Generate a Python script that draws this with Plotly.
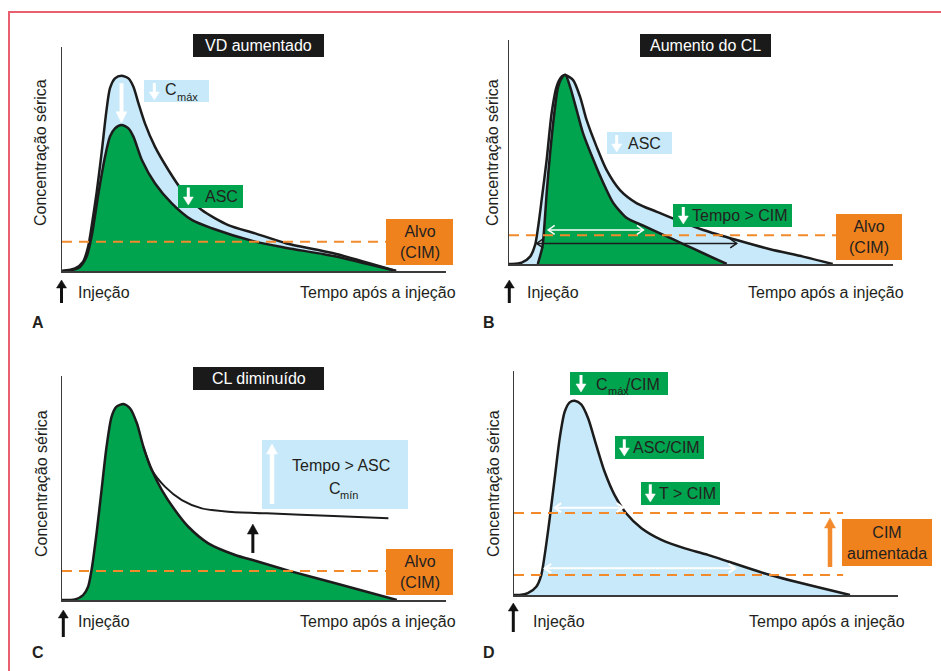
import plotly.graph_objects as go

# ---------------- data (time in arbitrary units, concentration 0-10) ----------------
# Panel A - increased Vd
A_t_outer = [0, 0.34, 0.55, 0.68, 0.77, 0.90, 1.03, 1.16, 1.25, 1.38, 1.55, 1.73, 1.86, 1.99, 2.16, 2.42, 2.77, 3.12, 3.64, 4.33, 5.03, 5.85, 7.07, 8.70]
A_c_outer = [0, 0.12, 0.42, 1.08, 1.98, 3.47, 5.25, 7.19, 8.16, 8.60, 8.72, 8.60, 8.23, 7.49, 6.59, 5.55, 4.51, 3.62, 2.72, 2.05, 1.68, 1.23, 0.79, 0]
A_t_inner = [0, 0.42, 0.64, 0.77, 0.95, 1.12, 1.25, 1.38, 1.55, 1.73, 1.86, 2.08, 2.42, 2.86, 3.38, 3.90, 5.03, 5.85, 7.07, 8.70]
A_c_inner = [0, 0.12, 0.64, 1.53, 3.47, 5.10, 6.00, 6.37, 6.52, 6.37, 6.00, 4.96, 3.92, 3.02, 2.28, 1.91, 1.31, 1.03, 0.67, 0]

# Panel B - increased clearance
B_t_outer = [0, 0.07, 0.33, 0.55, 0.68, 0.76, 0.85, 0.98, 1.11, 1.24, 1.37, 1.46, 1.67, 1.85, 2.02, 2.28, 2.54, 2.89, 3.33, 3.85, 4.37, 5.06, 5.93, 6.80, 7.66, 8.43]
B_c_outer = [0, 0, 0.06, 0.33, 0.85, 1.67, 2.86, 4.64, 6.73, 7.92, 8.36, 8.44, 8.21, 7.47, 6.43, 5.24, 4.20, 3.30, 2.71, 2.33, 1.96, 1.52, 1.07, 0.66, 0.33, 0]
B_t_inner = [0.75, 0.87, 0.92, 0.98, 1.07, 1.18, 1.28, 1.41, 1.47, 1.59, 1.76, 1.93, 2.20, 2.46, 2.72, 3.07, 3.50, 4.02, 4.54, 5.06, 5.67]
B_c_inner = [0, 0.77, 1.67, 3.16, 4.94, 6.73, 7.92, 8.39, 8.44, 7.92, 6.88, 5.83, 4.64, 3.60, 2.71, 2.05, 1.71, 1.30, 0.89, 0.48, 0]

# Panel C - decreased clearance
C_t = [0, 0.34, 0.55, 0.68, 0.77, 0.90, 1.03, 1.16, 1.29, 1.42, 1.60, 1.77, 1.95, 2.12, 2.34, 2.60, 2.94, 3.29, 3.81, 4.51, 5.03, 5.94, 7.24, 8.72]
C_c = [0, 0.03, 0.22, 0.59, 1.34, 2.98, 4.91, 6.84, 8.18, 8.63, 8.75, 8.56, 7.89, 6.84, 5.80, 4.91, 4.02, 3.27, 2.53, 2.01, 1.75, 1.29, 0.69, 0]
C_t_slow = [2.12, 2.34, 2.68, 3.12, 3.64, 4.33, 5.33, 7.07, 8.50]
C_c_slow = [6.84, 5.80, 5.06, 4.46, 4.09, 3.94, 3.87, 3.75, 3.65]

# Panel D - increased MIC
D_t = [0, 0.15, 0.36, 0.58, 0.71, 0.80, 0.93, 1.06, 1.19, 1.32, 1.45, 1.58, 1.75, 1.93, 2.14, 2.36, 2.62, 2.92, 3.32, 3.84, 4.45, 5.05, 6.67, 8.75]
D_c = [0, 0, 0.08, 0.37, 0.89, 1.79, 3.42, 5.21, 7.00, 8.18, 8.60, 8.67, 8.51, 7.89, 6.70, 5.50, 4.46, 3.65, 2.98, 2.46, 2.08, 1.79, 0.89, 0]

# target (MIC) levels and extents
cim_A, cim_B, cim_C = 1.31, 1.28, 1.29
cim_D_low, cim_D_high = 0.89, 3.66
cim_end_A, cim_end_B, cim_end_C, cim_end_D = 8.46, 8.52, 8.46, 8.57

# time-above-MIC spans (start, end, level)
B_span_fast = [1.02, 3.50, 1.52]
B_span_slow = [0.72, 5.93, 0.92]
D_span_high = [1.06, 2.84, 3.90]
D_span_low = [0.80, 5.76, 1.19]

# vertical change arrows (x, y_from, y_to)
A_cmax_drop = [1.55, 8.38, 6.62]
C_cmin_rise = [4.97, 2.10, 3.39]

# axis labels
Y_LABEL = 'Concentração sérica'
X_LABEL = 'Tempo após a injeção'
INJ_LABEL = 'Injeção'

# ---------------- styling ----------------
W, H = 941, 671
GREEN = '#00a34e'
BLUE = '#c8e9f9'
ORANGE = '#f28a2c'
ORANGE_BOX = '#f0821e'
TXT = '#231f20'
CURVE = '#1c1c1c'
FONT = 'Liberation Sans, Arial, Helvetica, sans-serif'
PX_X = 38.4   # pixels per time unit (384 px / 10)
PX_Y = 22.4   # pixels per concentration unit (224 px / 10)


def fx(px):
    return px / W


def fy(py):
    return 1 - py / H


fig = go.Figure()

panels = {
    'A': dict(xa='x', ya='y', dx=(62, 446), dy=(47, 271)),
    'B': dict(xa='x2', ya='y2', dx=(509, 893), dy=(40, 264)),
    'C': dict(xa='x3', ya='y3', dx=(62, 446), dy=(376, 600)),
    'D': dict(xa='x4', ya='y4', dx=(514, 898), dy=(371, 595)),
}


def curve(p, t, c, fill=None, width=2.5):
    fig.add_trace(go.Scatter(
        x=t, y=c, xaxis=panels[p]['xa'], yaxis=panels[p]['ya'], mode='lines',
        line=dict(color=CURVE, width=width, shape='spline', smoothing=0.7),
        fill='tozeroy' if fill else None, fillcolor=fill,
        hoverinfo='skip', showlegend=False))


def hline(p, level, end):
    fig.add_trace(go.Scatter(
        x=[0, end], y=[level, level], xaxis=panels[p]['xa'], yaxis=panels[p]['ya'],
        mode='lines', line=dict(color=ORANGE, width=2, dash='10px,7px'),
        hoverinfo='skip', showlegend=False))


def span_arrow(p, span, color, width):
    """horizontal double-headed arrow with open chevron heads"""
    x0, x1, y = span
    hx, hy = 6.5 / PX_X, 4.5 / PX_Y
    xs = [x0 + hx, x0, x0 + hx, None, x0, x1, None, x1 - hx, x1, x1 - hx]
    ys = [y + hy, y, y - hy, None, y, y, None, y + hy, y, y - hy]
    fig.add_trace(go.Scatter(
        x=xs, y=ys, xaxis=panels[p]['xa'], yaxis=panels[p]['ya'], mode='lines',
        line=dict(color=color, width=width), hoverinfo='skip', showlegend=False))


def vert_arrow(p, spec, color, width, head_w=10, head_l=9):
    """vertical arrow with filled triangular head"""
    x, y0, y1 = spec
    d = 1 if y1 > y0 else -1
    hl, hw = head_l / PX_Y, head_w / 2 / PX_X
    base = y1 - d * hl
    fig.add_trace(go.Scatter(
        x=[x, x], y=[y0, base + d * 0.05], xaxis=panels[p]['xa'], yaxis=panels[p]['ya'],
        mode='lines', line=dict(color=color, width=width), hoverinfo='skip', showlegend=False))
    fig.add_trace(go.Scatter(
        x=[x - hw, x + hw, x, x - hw], y=[base, base, y1, base],
        xaxis=panels[p]['xa'], yaxis=panels[p]['ya'], mode='lines', fill='toself',
        fillcolor=color, line=dict(color=color, width=0.5), hoverinfo='skip', showlegend=False))


curve('A', A_t_outer, A_c_outer, BLUE)
curve('A', A_t_inner, A_c_inner, GREEN)
hline('A', cim_A, cim_end_A)
vert_arrow('A', A_cmax_drop, 'white', 4, head_w=11, head_l=11)

curve('B', B_t_outer, B_c_outer, BLUE)
curve('B', B_t_inner, B_c_inner, GREEN)
hline('B', cim_B, cim_end_B)
span_arrow('B', B_span_fast, 'white', 1.5)
span_arrow('B', B_span_slow, '#1c1c1c', 1.5)

curve('C', C_t, C_c, GREEN)
curve('C', C_t_slow, C_c_slow, None, 2)
hline('C', cim_C, cim_end_C)
vert_arrow('C', C_cmin_rise, '#111111', 3, head_w=11, head_l=10)

curve('D', D_t, D_c, BLUE)
hline('D', cim_D_low, cim_end_D)
hline('D', cim_D_high, cim_end_D)
span_arrow('D', D_span_high, 'white', 2)
span_arrow('D', D_span_low, 'white', 2)

# axes
layout_axes = {}
for i, (k, p) in enumerate(panels.items()):
    sfx = '' if i == 0 else str(i + 1)
    common = dict(range=[0, 10], showgrid=False, zeroline=False, showticklabels=False,
                  ticks='', showline=True, linecolor='#3a3a3a', linewidth=1.5, fixedrange=True)
    layout_axes['xaxis' + sfx] = dict(domain=[fx(p['dx'][0]), fx(p['dx'][1])],
                                      anchor='y' + sfx, **common)
    layout_axes['yaxis' + sfx] = dict(domain=[fy(p['dy'][1]), fy(p['dy'][0])],
                                      anchor='x' + sfx, **common)

shapes = []


def rect(x0, y0, x1, y1, color):
    shapes.append(dict(type='rect', xref='paper', yref='paper', x0=fx(x0), x1=fx(x1),
                       y0=fy(y1), y1=fy(y0), fillcolor=color, line=dict(width=0),
                       layer='above'))


# frame
shapes.append(dict(type='line', xref='paper', yref='paper', x0=fx(8), x1=1, y0=fy(12), y1=fy(12),
                   line=dict(color='#e8606f', width=2)))
shapes.append(dict(type='line', xref='paper', yref='paper', x0=fx(9), x1=fx(9), y0=fy(12), y1=0,
                   line=dict(color='#e8606f', width=2)))

# boxes
rect(193, 34, 324, 57, '#1a1a1a')
rect(144, 80, 209, 102, BLUE)
rect(178, 185, 243, 208, GREEN)
rect(386, 219, 453, 265, ORANGE_BOX)

rect(640, 34, 771, 57, '#1a1a1a')
rect(607, 132, 672, 154, BLUE)
rect(673, 204, 792, 227, GREEN)
rect(836, 214, 902, 260, ORANGE_BOX)

rect(193, 367, 324, 390, '#1a1a1a')
rect(262, 440, 408, 509, BLUE)
rect(386, 549, 453, 595, ORANGE_BOX)

rect(570, 372, 668, 395, GREEN)
rect(615, 436, 704, 459, GREEN)
rect(641, 482, 720, 505, GREEN)
rect(842, 519, 932, 566, ORANGE_BOX)


# small arrows outside the curves (shaft line + filled triangular head)
def parrow(x, y_tail, y_head, color, width=3, head_w=10, head_l=8):
    d = 1 if y_head > y_tail else -1
    base = y_head - d * head_l
    shapes.append(dict(type='line', xref='paper', yref='paper', x0=fx(x), x1=fx(x),
                       y0=fy(y_tail), y1=fy(base + d * 1), line=dict(color=color, width=width),
                       layer='above'))
    path = 'M %.5f %.5f L %.5f %.5f L %.5f %.5f Z' % (
        fx(x - head_w / 2), fy(base), fx(x + head_w / 2), fy(base), fx(x), fy(y_head))
    shapes.append(dict(type='path', xref='paper', yref='paper', path=path,
                       fillcolor=color, line=dict(color=color, width=0.5), layer='above'))


annotations = []


def text(s, x, y, anchor='center', color=TXT, size=16, bold=False, angle=0):
    annotations.append(dict(xref='paper', yref='paper', x=fx(x), y=fy(y), text=('<b>%s</b>' % s) if bold else s,
                            showarrow=False, xanchor=anchor, yanchor='middle', borderpad=0,
                            textangle=angle,
                            font=dict(family=FONT, size=size, color=color), align='center'))


# y-axis titles
text(Y_LABEL, 41, 153, angle=-90)
text(Y_LABEL, 493, 153, angle=-90)
text(Y_LABEL, 41, 484, angle=-90)
text(Y_LABEL, 493, 484, angle=-90)

# Panel A texts
text('VD aumentado', 258.5, 45.5, color='white')
text('C', 164, 90, anchor='left')
text('máx', 175.5, 96.5, anchor='left', size=11)
text('ASC', 204, 196.5, anchor='left')
text('Alvo<br>(CIM)', 419.5, 242)
text(INJ_LABEL, 77, 292, anchor='left')
text(X_LABEL, 457, 292, anchor='right')
text('A', 37.5, 322, bold=True)
parrow(154.3, 83, 100, 'white')
parrow(188.3, 187.5, 205, 'white')
parrow(61.5, 303, 280, '#111111')

# Panel B texts
text('Aumento do CL', 705.5, 45.5, color='white')
text('ASC', 626.7, 143, anchor='left')
text('Tempo > CIM', 690.5, 215.5, anchor='left')
text('Alvo<br>(CIM)', 869, 237)
text(INJ_LABEL, 526, 292, anchor='left')
text(X_LABEL, 905, 292, anchor='right')
text('B', 489, 322, bold=True)
parrow(616.7, 135, 152, 'white')
parrow(683.3, 207, 224, 'white')
parrow(509.3, 303, 280, '#111111')

# Panel C texts
text('CL diminuído', 258.5, 378.5, color='white')
text('Tempo > ASC', 341, 465)
text('C', 327.5, 488.7, anchor='left')
text('mín', 339, 494.5, anchor='left', size=11)
text('Alvo<br>(CIM)', 419.5, 572)
text(INJ_LABEL, 77, 621.7, anchor='left')
text(X_LABEL, 457, 621.7, anchor='right')
text('C', 37.5, 652.7, bold=True)
parrow(272, 504, 444, 'white', width=4.5, head_w=11, head_l=10)
parrow(63.3, 637, 610, '#111111')

# Panel D texts
text('C', 595, 384, anchor='left')
text('máx', 606.5, 391, anchor='left', size=11)
text('/CIM', 624.5, 384, anchor='left')
text('ASC/CIM', 632, 447.5, anchor='left')
text('T > CIM', 658, 493.5, anchor='left')
text('CIM<br>aumentada', 887, 542.5)
text(INJ_LABEL, 531.7, 621.7, anchor='left')
text(X_LABEL, 905.7, 621.7, anchor='right')
text('D', 489, 652.7, bold=True)
parrow(581, 375, 392, 'white')
parrow(624.3, 439.3, 456, 'white')
parrow(650.3, 484.3, 502, 'white')
parrow(513.3, 632, 603, '#111111')
parrow(830, 567, 518, ORANGE, width=4.5, head_w=11, head_l=10)

fig.update_layout(width=W, height=H, margin=dict(l=0, r=0, t=0, b=0),
                  paper_bgcolor='white', plot_bgcolor='rgba(0,0,0,0)', showlegend=False,
                  font=dict(family=FONT, size=16, color=TXT),
                  shapes=shapes, annotations=annotations, **layout_axes)

fig.write_html("out.html", config={'displayModeBar': False, 'staticPlot': True},
               post_script="document.body.style.margin='0';document.body.style.overflow='hidden';")
